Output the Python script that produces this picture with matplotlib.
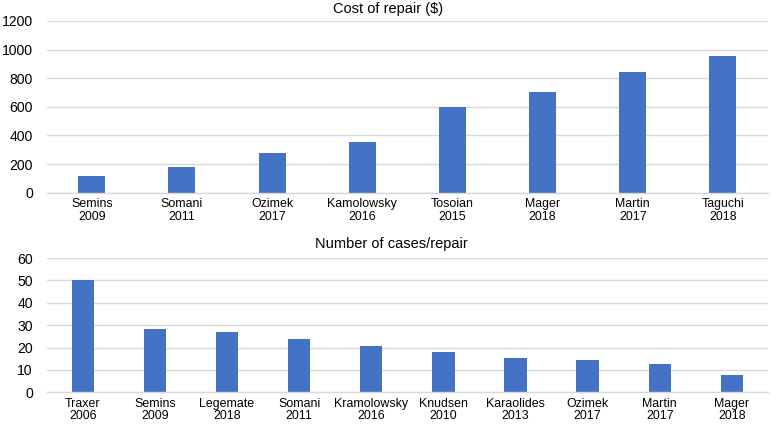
import matplotlib.pyplot as plt
import numpy as np

plt.rcParams['font.family'] = ['Liberation Sans', 'DejaVu Sans']

# top chart: cost of repair
cost_names = ['Semins', 'Somani', 'Ozimek', 'Kamolowsky', 'Tosoian', 'Mager', 'Martin', 'Taguchi']
cost_years = ['2009', '2011', '2017', '2016', '2015', '2018', '2017', '2018']
cost_vals = [120, 182, 278, 355, 601, 704, 843, 955]

# bottom chart: number of cases per repair
case_names = ['Traxer', 'Semins', 'Legemate', 'Somani', 'Kramolowsky', 'Knudsen',
              'Karaolides', 'Ozimek', 'Martin', 'Mager']
case_years = ['2006', '2009', '2018', '2011', '2016', '2010', '2013', '2017', '2017', '2018']
case_vals = [50.1, 28.1, 26.9, 23.9, 20.7, 18.0, 15.2, 14.4, 12.5, 7.7]

blue = '#4472C4'
grid = '#D9D9D9'

fig = plt.figure(figsize=(7.72, 4.24), dpi=100)


def style(ax, n):
    ax.set_xlim(-0.5, n - 0.5)
    for s in ['top', 'right', 'left']:
        ax.spines[s].set_visible(False)
    ax.spines['bottom'].set_color(grid)
    ax.spines['bottom'].set_linewidth(1.0)
    ax.yaxis.grid(True, color=grid, linewidth=1.0)
    ax.set_axisbelow(True)
    ax.tick_params(axis='both', length=0, colors='black')
    ax.tick_params(axis='y', labelsize=10.1, pad=10)
    ax.tick_params(axis='x', labelsize=8.9, pad=4)
    for t in ax.get_xticklabels():
        t.set_linespacing(1.05)


ax1 = fig.add_axes([46.7 / 772, 1 - 192.7 / 424, 721.3 / 772, 171.7 / 424])
x1 = np.arange(len(cost_vals))
ax1.bar(x1, cost_vals, width=0.3, color=blue)
ax1.set_ylim(0, 1200)
ax1.set_yticks(range(0, 1201, 200))
ax1.set_xticks(x1)
ax1.set_xticklabels([f'{a}\n{b}' for a, b in zip(cost_names, cost_years)])
style(ax1, len(cost_vals))

ax2 = fig.add_axes([46.7 / 772, 1 - 392.3 / 424, 721.3 / 772, 134.3 / 424])
x2 = np.arange(len(case_vals))
ax2.bar(x2, case_vals, width=0.31, color=blue)
ax2.set_ylim(0, 60)
ax2.set_yticks(range(0, 61, 10))
ax2.set_xticks(x2)
ax2.set_xticklabels([f'{a}\n{b}' for a, b in zip(case_names, case_years)])
style(ax2, len(case_vals))

fig.text(388 / 772, 1 - 8.5 / 424, 'Cost of repair ($)', ha='center', va='center', fontsize=10.5)
fig.text(391 / 772, 1 - 243.7 / 424, 'Number of cases/repair', ha='center', va='center', fontsize=10.5)

fig.savefig('out.png', dpi=100)
